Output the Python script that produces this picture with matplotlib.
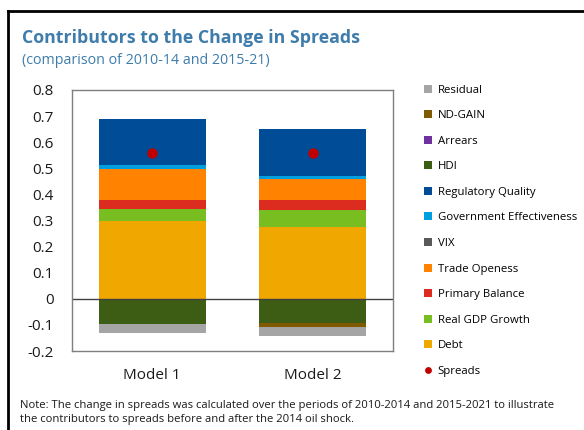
import matplotlib
matplotlib.use('Agg')
import matplotlib.pyplot as plt
from matplotlib.lines import Line2D
import numpy as np

plt.rcParams['font.family'] = ['Open Sans', 'DejaVu Sans']

models = ['Model 1', 'Model 2']

# stacked components, bottom to top (positives), then downward (negatives)
debt = [0.300, 0.275]
real_gdp = [0.045, 0.066]
primary_balance = [0.035, 0.036]
trade_openess = [0.117, 0.082]
vix = [0.0, 0.0]
gov_effectiveness = [0.014, 0.011]
regulatory_quality = [0.178, 0.179]
hdi = [-0.096, -0.092]
arrears = [0.0, 0.0]
nd_gain = [0.0, -0.015]
residual = [-0.035, -0.034]
spreads = [0.560, 0.560]

series = [
    ('Debt', debt, '#f0a800'),
    ('Real GDP Growth', real_gdp, '#78be20'),
    ('Primary Balance', primary_balance, '#dc2b1f'),
    ('Trade Openess', trade_openess, '#ff8200'),
    ('VIX', vix, '#595959'),
    ('Government Effectiveness', gov_effectiveness, '#009fdf'),
    ('Regulatory Quality', regulatory_quality, '#004c97'),
    ('HDI', hdi, '#3d5c14'),
    ('Arrears', arrears, '#7030a0'),
    ('ND-GAIN', nd_gain, '#7f5a00'),
    ('Residual', residual, '#a5a5a5'),
]

fig = plt.figure(figsize=(5.84, 4.30), dpi=100)
ax = fig.add_axes([0.1233, 0.1837, 0.5497, 0.6070])

x = np.arange(len(models))
pos_base = np.zeros(len(models))
neg_base = np.zeros(len(models))
handles = []
for name, vals, col in series:
    vals = np.array(vals)
    bottom = np.where(vals >= 0, pos_base, neg_base)
    b = ax.bar(x, vals, width=0.665, bottom=bottom, color=col, linewidth=0, label=name)
    pos_base = pos_base + np.clip(vals, 0, None)
    neg_base = neg_base + np.clip(vals, None, 0)
    handles.append(b)

sp, = ax.plot(x, spreads, 'o', color='#c00000', markersize=6.5, linestyle='none', label='Spreads')

ax.axhline(0, color='#404040', linewidth=1)
ax.set_xlim(-0.5, 1.5)
ax.set_ylim(-0.2, 0.8)
ax.set_yticks(np.arange(-0.2, 0.81, 0.1))
ax.set_yticklabels(['-0.2', '-0.1', '0', '0.1', '0.2', '0.3', '0.4', '0.5', '0.6', '0.7', '0.8'])
ax.set_xticks(x)
ax.set_xticklabels(models)
ax.tick_params(axis='both', length=0, labelsize=11, colors='#1a1a1a')
ax.tick_params(axis='y', pad=13)
ax.tick_params(axis='x', pad=12)
for s in ax.spines.values():
    s.set_color('#7f7f7f')
    s.set_linewidth(1)

# legend: reversed order, spreads last
leg_handles = handles[::-1] + [sp]
leg_labels = [h.get_label() for h in leg_handles]
leg = fig.legend(leg_handles, leg_labels, loc='upper left', bbox_to_anchor=(0.718, 0.814),
                 frameon=False, fontsize=8.2, handlelength=0.7, handleheight=0.7,
                 handletextpad=0.5, labelspacing=1.28, borderaxespad=0, markerscale=0.6)

fig.text(0.038, 0.912, 'Contributors to the Change in Spreads', fontsize=12.8,
         fontweight='bold', color='#3e7cab', va='center')
fig.text(0.038, 0.860, '(comparison of 2010-14 and 2015-21)', fontsize=10.3,
         color='#3e7cab', va='center')
fig.text(0.034, 0.041, 'Note: The change in spreads was calculated over the periods of 2010-2014 and 2015-2021 to illustrate\n'
         'the contributors to spreads before and after the 2014 oil shock.',
         fontsize=8.1, color='#1a1a1a', va='center', linespacing=1.35)

# outer frame on top and left
fig.add_artist(Line2D([0.014, 1.0], [0.975, 0.975], color='black', linewidth=2, transform=fig.transFigure))
fig.add_artist(Line2D([0.014, 0.014], [0.0, 0.975], color='black', linewidth=2, transform=fig.transFigure))

fig.savefig('out.png', dpi=100)
